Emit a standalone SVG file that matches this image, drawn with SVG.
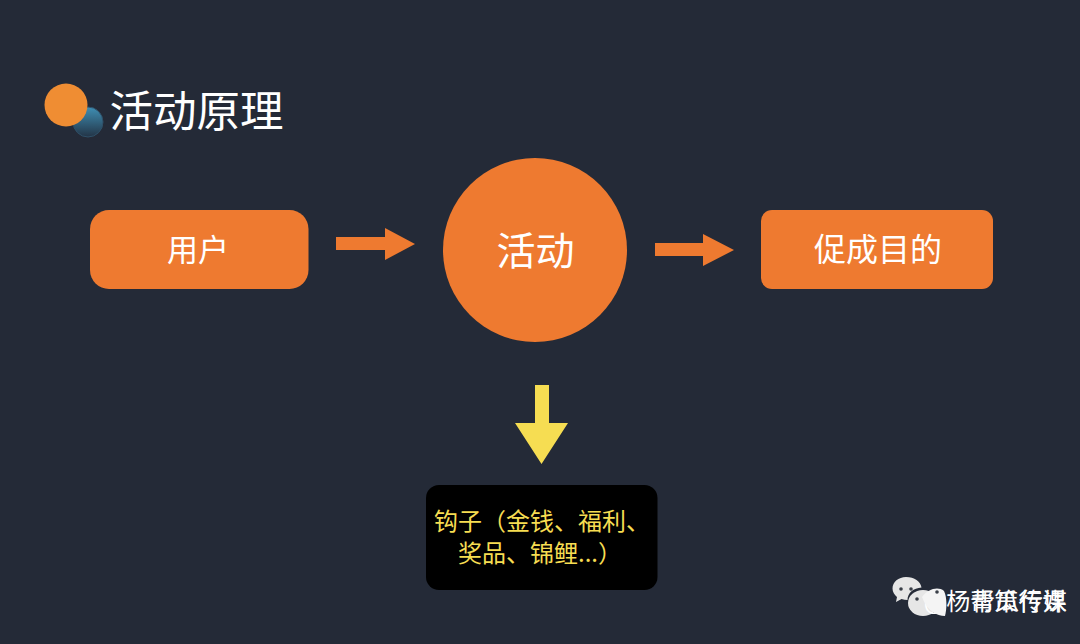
<svg xmlns="http://www.w3.org/2000/svg" width="1080" height="644" viewBox="0 0 1080 644">
<style>
text{font-family:"Noto Sans CJK SC","Noto Sans",sans-serif;text-anchor:middle;font-weight:400}
.w{fill:#fff}
.o{fill:#ee7a30}
.y{fill:#f6dd52}
.wm{fill:#fff;font-size:24px}
.d{fill:#3a3f48}
</style>
<defs><linearGradient id="g" x1="0" y1="0" x2="0" y2="1"><stop offset="0" stop-color="#3f8fb4"/><stop offset="1" stop-color="#233446"/></linearGradient></defs>
<rect width="1080" height="644" fill="#242a37"/>
<g id="title">
<circle cx="88" cy="122" r="15" fill="url(#g)" stroke="#2f5068"/>
<circle cx="66" cy="105" r="21.500" fill="#ef8d33"/>
<text class="w" x="196.500" y="127" font-size="43.500">活动原理</text>
</g>
<g id="connectors">
<path class="o" d="M336 237H385V228L415 244L385 260V250H336Z"/>
<path class="o" d="M655 243H703V234L734 250L703 266V256H655Z"/>
<path class="y" d="M535 385H549V423H568L541.500 464L515 423H535Z"/>
</g>
<g id="node-user"><rect class="o" x="90" y="210" width="218.500" height="79" rx="19"/><text class="w" x="198" y="261" font-size="31">用户</text></g>
<g id="node-activity"><circle class="o" cx="535" cy="250" r="92"/><text class="w" x="535.500" y="265" font-size="39">活动</text></g>
<g id="node-goal"><rect class="o" x="761" y="210" width="232" height="79" rx="11"/><text class="w" x="878" y="261" font-size="32">促成目的</text></g>
<g id="node-hook"><rect x="426" y="485" width="231.500" height="105" rx="13" fill="#000"/>
<text class="y" x="542" y="530" font-size="24">钩子（金钱、福利、</text>
<text class="y" x="540" y="562" font-size="24">奖品、锦鲤...）</text></g>
<g id="watermark">
<path d="M906 577c-7.500 0-13.500 5-13.500 11.500c0 3.500 2 6.500 4.500 8.500l-1 5l5.500-3c2 .7 4 1 6 1c0-7 6-12 14-12.500c-1-6-7-10.500-15.500-10.500Z" fill="#e6e6e6"/>
<ellipse cx="923" cy="603" rx="15" ry="13" fill="#e6e6e6"/>
<circle class="d" cx="901" cy="589" r="1.800"/><circle class="d" cx="911" cy="589" r="1.800"/>
<circle class="d" cx="917" cy="599" r="1.800"/>
<text class="wm" x="995" y="610">@杨帮策行课</text>
<text class="wm" x="1019" y="610">青瓜传媒</text>
<path d="M922 597C928 589 938 586 944 591C947 597 947 608 945 616C937 616 927 611 922 597Z" fill="#f4f4f4"/>
<circle cx="937" cy="592" r="1.800" fill="#3a3f48"/>
</g>
</svg>
